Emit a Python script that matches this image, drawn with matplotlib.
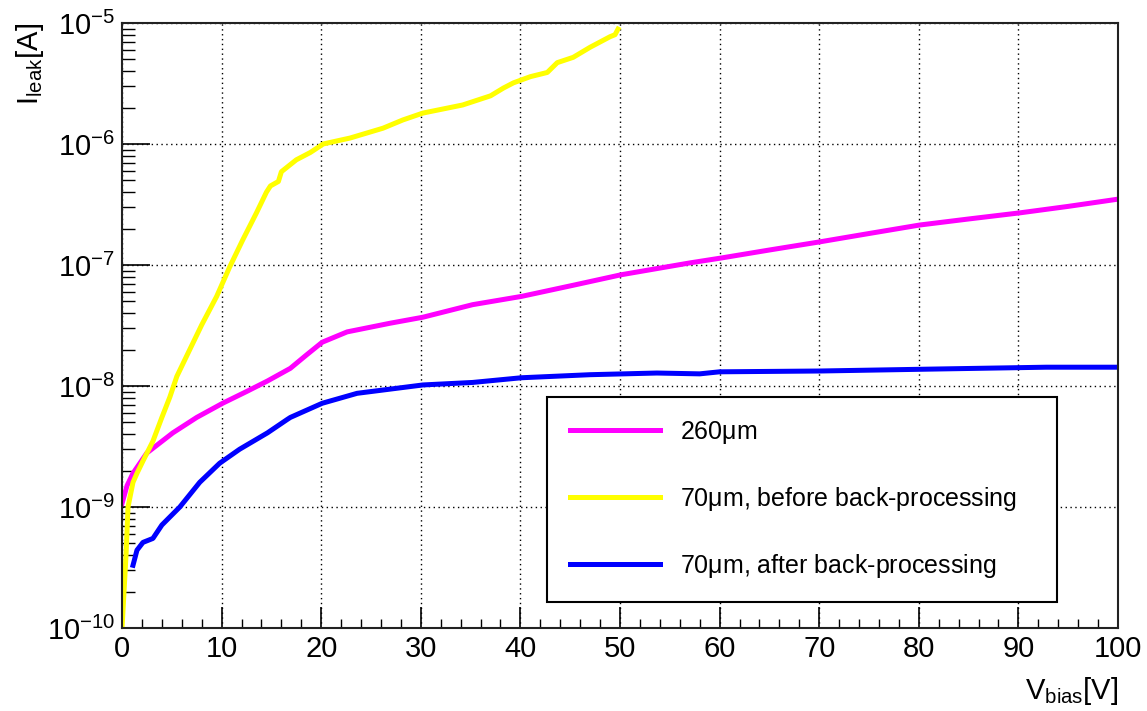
import matplotlib
matplotlib.use("Agg")
import matplotlib.pyplot as plt
from matplotlib.ticker import LogLocator, MultipleLocator, NullFormatter

plt.rcParams['font.family'] = ['Liberation Sans', 'DejaVu Sans']
plt.rcParams['mathtext.fontset'] = 'custom'
plt.rcParams['mathtext.rm'] = 'Liberation Sans'
plt.rcParams['mathtext.it'] = 'Liberation Sans'
plt.rcParams['mathtext.default'] = 'regular'

# ---- data ----
v_260 = [0, 0.5, 1.1, 2.5, 5.1, 7.5, 10.1, 12.5, 14.6, 16.9, 18.5, 20.1, 22.6, 26.9, 30.2,
         35.2, 40.1, 45.3, 50.1, 57, 60.1, 65, 70, 75, 80.1, 85, 90.2, 95, 100]
i_260 = [1.07e-9, 1.5e-9, 1.9e-9, 2.8e-9, 4.1e-9, 5.5e-9, 7.2e-9, 9.0e-9, 1.1e-8, 1.4e-8,
         1.8e-8, 2.3e-8, 2.8e-8, 3.3e-8, 3.7e-8, 4.7e-8, 5.5e-8, 6.8e-8, 8.3e-8, 1.04e-7,
         1.14e-7, 1.33e-7, 1.55e-7, 1.82e-7, 2.14e-7, 2.4e-7, 2.7e-7, 3.05e-7, 3.5e-7]

v_70_before = [0, 0.2, 0.4, 0.6, 1.1, 1.5, 2.1, 3.1, 4.0, 4.8, 5.5, 6.8, 8.0, 9.5, 10.8, 12.1,
               13.5, 14.5, 14.9, 15.7, 16.0, 17.5, 18.9, 20.2, 22.9, 26.2, 28.2, 30.2, 34.2,
               37.0, 38.3, 39.3, 41.0, 42.7, 43.7, 45.3, 47.0, 49.0, 49.5, 49.8]
i_70_before = [1e-10, 2e-10, 4e-10, 1e-9, 1.6e-9, 1.9e-9, 2.4e-9, 3.5e-9, 5.5e-9, 8.1e-9,
               1.2e-8, 2.0e-8, 3.2e-8, 5.5e-8, 9.6e-8, 1.6e-7, 2.7e-7, 4.0e-7, 4.5e-7, 4.9e-7,
               5.9e-7, 7.4e-7, 8.5e-7, 1.0e-6, 1.12e-6, 1.35e-6, 1.58e-6, 1.8e-6, 2.1e-6,
               2.5e-6, 2.9e-6, 3.2e-6, 3.6e-6, 3.9e-6, 4.7e-6, 5.2e-6, 6.3e-6, 7.7e-6, 8.0e-6,
               8.9e-6]

v_70_after = [1.1, 1.5, 2.1, 3.1, 4.0, 5.8, 7.8, 9.8, 11.8, 14.6, 16.6, 16.9, 20.1, 23.6,
              30.2, 35.2, 40.1, 47.0, 53.7, 58, 60, 70, 81.4, 92.8, 100]
i_70_after = [3.3e-10, 4.4e-10, 5.1e-10, 5.5e-10, 7.1e-10, 1.0e-9, 1.6e-9, 2.3e-9, 3.0e-9,
              4.1e-9, 5.3e-9, 5.5e-9, 7.2e-9, 8.7e-9, 1.02e-8, 1.07e-8, 1.17e-8, 1.24e-8,
              1.28e-8, 1.26e-8, 1.31e-8, 1.33e-8, 1.38e-8, 1.43e-8, 1.43e-8]

labels = [r'260$\mu$m', r'70$\mu$m, before back-processing', r'70$\mu$m, after back-processing']
colors = ['#ff00ff', '#ffff00', '#0000ff']

fig = plt.figure(figsize=(11.47, 7.11), dpi=100)
ax = fig.add_axes([0.1064, 0.1167, 0.8683, 0.851])

lw = 3.6
ax.plot(v_260, i_260, color=colors[0], lw=lw, label=labels[0])
ax.plot(v_70_before, i_70_before, color=colors[1], lw=lw, label=labels[1])
ax.plot(v_70_after, i_70_after, color=colors[2], lw=lw, label=labels[2])

ax.set_yscale('log')
ax.set_xlim(0, 100)
ax.set_ylim(1e-10, 1e-5)

ax.xaxis.set_major_locator(MultipleLocator(10))
ax.xaxis.set_minor_locator(MultipleLocator(2))
ax.yaxis.set_major_locator(LogLocator(base=10, numticks=20))
ax.yaxis.set_minor_locator(LogLocator(base=10, subs=range(2, 10), numticks=20))
ax.yaxis.set_minor_formatter(NullFormatter())

ax.tick_params(axis='both', which='both', direction='in', top=False, right=False,
               labelsize=21, color='black')
ax.tick_params(axis='x', which='major', length=15, width=1.2, pad=5)
ax.tick_params(axis='x', which='minor', length=6.5, width=1.0)
ax.tick_params(axis='y', which='major', length=20, width=1.2, pad=5)
ax.tick_params(axis='y', which='minor', length=9.5, width=1.0)

ax.grid(True, which='major', color='black', linestyle=(0, (1, 2.5)), linewidth=1.0)

for s in ax.spines.values():
    s.set_linewidth(1.5)
    s.set_color('#222222')

ax.set_xlabel(r'V$_{\mathrm{bias}}$[V]', fontsize=21, loc='right')
ax.set_ylabel(r'I$_{\mathrm{leak}}$[A]', fontsize=21, loc='top')
ax.yaxis.set_label_coords(-0.076, 1.0)
ax.xaxis.set_label_coords(1.0, -0.078)

leg = ax.legend(loc='lower left', bbox_to_anchor=(0.427, 0.043, 0.512, 0.345),
                mode='expand', fontsize=18, frameon=True, fancybox=False,
                edgecolor='black', framealpha=1, borderaxespad=0, borderpad=0.9,
                labelspacing=1.55, handlelength=3.6, handletextpad=0.8)
leg.get_frame().set_linewidth(1.5)

fig.savefig('out.png', dpi=100)
